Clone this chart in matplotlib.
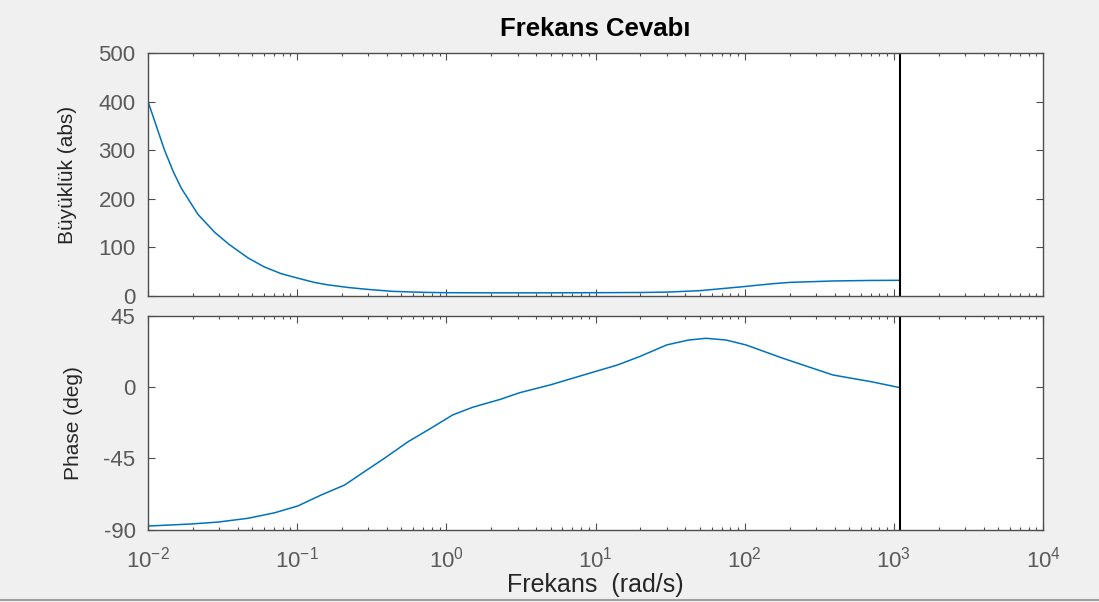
import math

import matplotlib
matplotlib.use("Agg")
import matplotlib.pyplot as plt
from matplotlib.lines import Line2D
from matplotlib.ticker import FixedLocator, FuncFormatter, NullFormatter

# Magnitude response samples
freq_mag = [0.01, 0.0129, 0.0148, 0.0167, 0.0216, 0.028, 0.035, 0.047, 0.06,
            0.078, 0.1, 0.13, 0.16, 0.22, 0.3, 0.44, 0.7,
            1, 2, 5, 10, 20, 30, 50, 100, 150, 200, 400, 700, 1100]
mag = [400, 300, 255, 222, 168, 131, 106, 78, 60,
       46, 37, 28, 23, 17.5, 13.5, 9.5, 7.5,
       6.8, 6.5, 6.5, 6.8, 7.2, 8, 11, 19.5, 25, 28, 31, 32, 32.3]

# Phase response samples
freq_ph = [0.01, 0.0195, 0.0294, 0.0468, 0.0707, 0.101, 0.1446, 0.2076,
           0.2823, 0.3838, 0.5533, 0.7863, 1.1, 1.5, 2.3, 3.1,
           5, 9.1, 14, 19.7, 30, 42, 55, 75, 102, 180, 390, 700, 1100]
phase = [-87.8, -86.5, -85.3, -82.9, -79.4, -75.1, -68.2, -61.9,
         -53.4, -45, -34.5, -26, -17.6, -12.7, -7.7, -3.5,
         1.5, 8.8, 14, 19.3, 26.7, 29.8, 30.9, 29.8, 26.7, 18.3, 7.7, 3.5, -0.3]

f_cut = 1100
decades = [1e-2, 1e-1, 1e0, 1e1, 1e2, 1e3, 1e4]
mag_ticks = [0, 100, 200, 300, 400, 500]
phase_ticks = [-90, -45, 0, 45]

plt.rcParams['font.family'] = ['Liberation Sans', 'DejaVu Sans']
plt.rcParams['mathtext.default'] = 'regular'
plt.rcParams['axes.unicode_minus'] = False

line_color = '#0072BD'
axis_color = '#4d4d4d'
tick_text = '#5a5a5a'
label_text = '#262626'

fig = plt.figure(figsize=(10.99, 6.02), dpi=100, facecolor='#f0f0f0')
ax1 = fig.add_axes([0.1347, 0.5083, 0.8144, 0.4037])
ax2 = fig.add_axes([0.1347, 0.1204, 0.8144, 0.3547])

minor_pos = [m * d for d in decades[:-1] for m in range(2, 10)]


def style_axes(ax):
    ax.set_xscale('log')
    ax.set_xlim(1e-2, 1e4)
    ax.xaxis.set_major_locator(FixedLocator(decades))
    ax.xaxis.set_minor_locator(FixedLocator(minor_pos))
    ax.xaxis.set_minor_formatter(NullFormatter())
    for s in ax.spines.values():
        s.set_color(axis_color)
        s.set_linewidth(1.0)
    ax.tick_params(which='both', direction='in', top=True, right=True,
                   color=axis_color, labelcolor=tick_text, labelsize=16)
    ax.tick_params(which='major', length=5, width=0.8)
    ax.tick_params(which='minor', length=2.5, width=0.8)
    ax.tick_params(axis='y', pad=9)
    ax.tick_params(axis='x', pad=12)


style_axes(ax1)
style_axes(ax2)

# Magnitude
ax1.plot(freq_mag, mag, color=line_color, linewidth=1.1)
ax1.axvline(f_cut, color='black', linewidth=1.5)
ax1.set_ylim(0, 500)
ax1.set_yticks(mag_ticks)
ax1.xaxis.set_major_formatter(NullFormatter())
ax1.set_ylabel('Büyüklük (abs)', fontsize=15, color=label_text, labelpad=15)
ax1.set_title('Frekans Cevabı', fontsize=18.5, fontweight='bold', pad=12)

# Phase
ax2.plot(freq_ph, phase, color=line_color, linewidth=1.1)
ax2.axvline(f_cut, color='black', linewidth=1.5)
ax2.set_ylim(-90, 45)
ax2.set_yticks(phase_ticks)
ax2.xaxis.set_major_formatter(
    FuncFormatter(lambda v, p: r'$\mathregular{10^{%d}}$' % round(math.log10(v))))
ax2.set_ylabel('Phase (deg)', fontsize=15, color=label_text, labelpad=15)
ax2.set_xlabel('Frekans  (rad/s)', fontsize=18, color=label_text, labelpad=1)

# bottom edge of the window frame
fig.add_artist(Line2D([0, 1], [0.003, 0.003], transform=fig.transFigure,
                      color='#a0a0a0', linewidth=1.5))

fig.savefig('out.png', dpi=100, facecolor=fig.get_facecolor())
